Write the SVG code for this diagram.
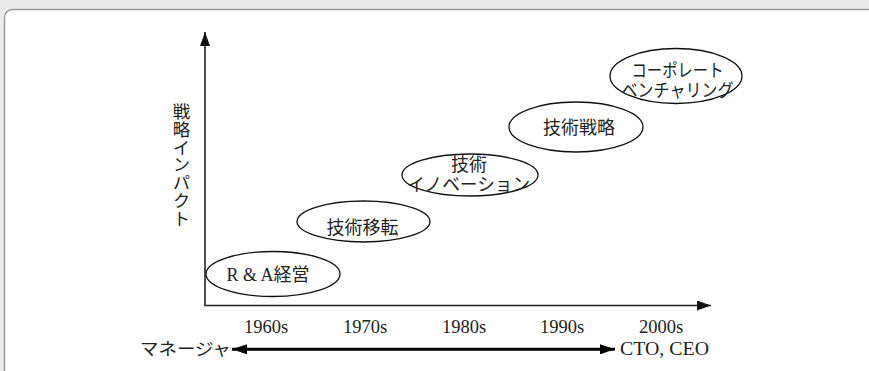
<svg xmlns="http://www.w3.org/2000/svg" width="869" height="371" viewBox="0 0 869 371">
  <defs>
    <style>
      .bg { fill: #ebebeb; }
      .panel { fill: #ffffff; stroke: #9a9a9a; stroke-width: 1.5; }
      .axis { stroke: #222; stroke-width: 1.6; fill: none; }
      .node ellipse { fill: #ffffff; stroke: #111; stroke-width: 1.3; }
      .jp { font-family: "Liberation Serif", "Noto Sans CJK JP", serif; fill: #222; }
      .lbl { font-size: 18px; text-anchor: middle; }
      .yr { font-family: "Liberation Serif", serif; font-size: 18.5px; fill: #222; text-anchor: middle; }
    </style>
    <marker id="ah" viewBox="0 0 14 10" refX="14" refY="5" markerWidth="14" markerHeight="10" markerUnits="userSpaceOnUse" orient="auto-start-reverse">
      <path d="M0,0 L14,5 L0,10 Z" fill="#111"/>
    </marker>
    <marker id="ahb" viewBox="0 0 15 10" refX="15" refY="5" markerWidth="15" markerHeight="10" markerUnits="userSpaceOnUse" orient="auto-start-reverse">
      <path d="M0,0 L15,5 L0,10 Z" fill="#000"/>
    </marker>
  </defs>

  <rect class="bg" x="0" y="0" width="869" height="371"/>
  <rect class="panel" x="4.5" y="9.5" width="900" height="400" rx="8" ry="8"/>

  <g id="connectors">
    <line class="axis" x1="205" y1="305.5" x2="205" y2="32" marker-end="url(#ah)"/>
    <line class="axis" x1="204.2" y1="305.5" x2="711" y2="305.5" marker-end="url(#ah)"/>
    <line x1="232" y1="349.3" x2="615" y2="349.3" stroke="#000" stroke-width="3" marker-start="url(#ahb)" marker-end="url(#ahb)"/>
  </g>

  <g id="y-label">
    <text class="jp" x="180" y="165" font-size="17.5" text-anchor="middle" style="writing-mode: vertical-rl;" letter-spacing="0.3">戦略インパクト</text>
  </g>

  <g id="node-ra" class="node">
    <ellipse cx="273" cy="274" rx="67" ry="22.5"/>
    <text class="jp lbl" x="268" y="281">R &amp; A経営</text>
  </g>
  <g id="node-transfer" class="node">
    <ellipse cx="363.5" cy="221.5" rx="66.5" ry="20.5"/>
    <text class="jp lbl" x="362.5" y="234">技術移転</text>
  </g>
  <g id="node-innovation" class="node">
    <ellipse cx="470" cy="175" rx="68" ry="21"/>
    <text class="jp lbl" x="469" y="171" font-size="17">技術</text>
    <text class="jp lbl" x="468.5" y="191" font-size="17" textLength="123" lengthAdjust="spacingAndGlyphs">イノベーション</text>
  </g>
  <g id="node-strategy" class="node">
    <ellipse cx="576" cy="127" rx="67" ry="25"/>
    <text class="jp lbl" x="579" y="134">技術戦略</text>
  </g>
  <g id="node-venturing" class="node">
    <ellipse cx="676" cy="76" rx="66" ry="27.5"/>
    <text class="jp lbl" x="677.5" y="77" font-size="17" textLength="92" lengthAdjust="spacingAndGlyphs">コーポレート</text>
    <text class="jp lbl" x="677.5" y="97" font-size="17" textLength="112" lengthAdjust="spacingAndGlyphs">ベンチャリング</text>
  </g>

  <g id="years">
    <text class="yr" x="266" y="333">1960s</text>
    <text class="yr" x="365" y="333">1970s</text>
    <text class="yr" x="464" y="333">1980s</text>
    <text class="yr" x="562" y="333">1990s</text>
    <text class="yr" x="661" y="333">2000s</text>
  </g>

  <g id="roles">
    <text class="jp" x="140" y="355" font-size="17" textLength="91" lengthAdjust="spacingAndGlyphs">マネージャ</text>
    <text class="jp" x="620" y="355" font-size="18.5" textLength="89" lengthAdjust="spacingAndGlyphs">CTO, CEO</text>
  </g>
</svg>
